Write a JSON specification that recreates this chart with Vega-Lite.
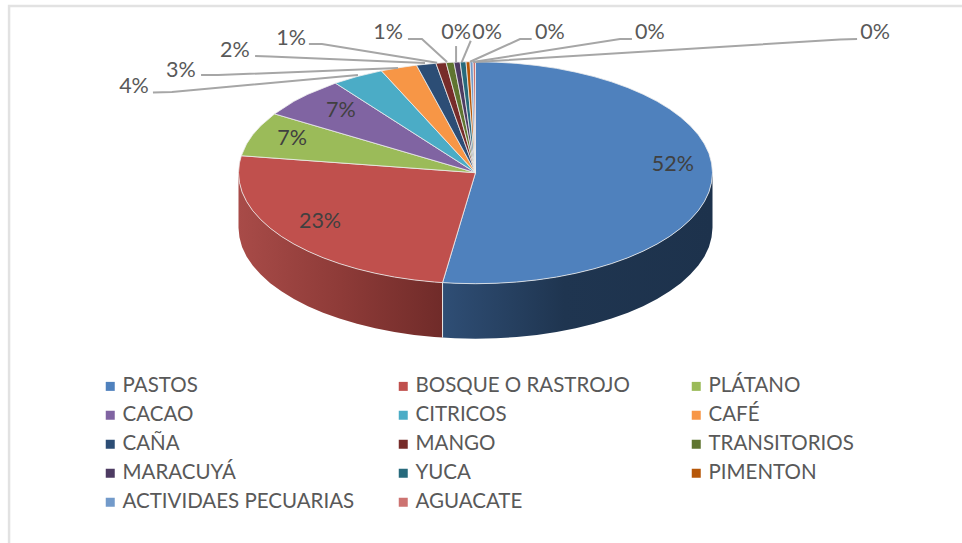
{"$schema":"https://vega.github.io/schema/vega-lite/v6.json","width":962,"height":543,"padding":0,"autosize":{"type":"none"},"background":"white","view":{"stroke":null},
"config":{"font":"Lato"},
"datasets":{
"frame":[{"x":-1.968,"y":-3.336,"i":0},{"x":-1.968,"y":1.502,"i":1},{"x":2.053,"y":1.502,"i":2}],
"sides":[
{"s":"PASTOS","x":1,"y":0,"y2":-0.495},{"s":"PASTOS","x":0.996,"y":-0.087,"y2":-0.582},{"s":"PASTOS","x":0.985,"y":-0.174,"y2":-0.669},{"s":"PASTOS","x":0.966,"y":-0.259,"y2":-0.754},{"s":"PASTOS","x":0.94,"y":-0.342,"y2":-0.837},{"s":"PASTOS","x":0.906,"y":-0.423,"y2":-0.918},{"s":"PASTOS","x":0.866,"y":-0.5,"y2":-0.995},{"s":"PASTOS","x":0.819,"y":-0.574,"y2":-1.069},{"s":"PASTOS","x":0.766,"y":-0.643,"y2":-1.138},{"s":"PASTOS","x":0.707,"y":-0.707,"y2":-1.202},{"s":"PASTOS","x":0.643,"y":-0.766,"y2":-1.261},{"s":"PASTOS","x":0.574,"y":-0.819,"y2":-1.314},{"s":"PASTOS","x":0.5,"y":-0.866,"y2":-1.361},{"s":"PASTOS","x":0.423,"y":-0.906,"y2":-1.401},{"s":"PASTOS","x":0.342,"y":-0.94,"y2":-1.435},{"s":"PASTOS","x":0.259,"y":-0.966,"y2":-1.461},{"s":"PASTOS","x":0.174,"y":-0.985,"y2":-1.48},{"s":"PASTOS","x":0.087,"y":-0.996,"y2":-1.491},{"s":"PASTOS","x":0,"y":-1,"y2":-1.495},{"s":"PASTOS","x":-0.087,"y":-0.996,"y2":-1.491},{"s":"PASTOS","x":-0.139,"y":-0.99,"y2":-1.485},
{"s":"BOSQUE O RASTROJO","x":-0.139,"y":-0.99,"y2":-1.485},{"s":"BOSQUE O RASTROJO","x":-0.174,"y":-0.985,"y2":-1.48},{"s":"BOSQUE O RASTROJO","x":-0.259,"y":-0.966,"y2":-1.461},{"s":"BOSQUE O RASTROJO","x":-0.342,"y":-0.94,"y2":-1.435},{"s":"BOSQUE O RASTROJO","x":-0.423,"y":-0.906,"y2":-1.401},{"s":"BOSQUE O RASTROJO","x":-0.5,"y":-0.866,"y2":-1.361},{"s":"BOSQUE O RASTROJO","x":-0.574,"y":-0.819,"y2":-1.314},{"s":"BOSQUE O RASTROJO","x":-0.643,"y":-0.766,"y2":-1.261},{"s":"BOSQUE O RASTROJO","x":-0.707,"y":-0.707,"y2":-1.202},{"s":"BOSQUE O RASTROJO","x":-0.766,"y":-0.643,"y2":-1.138},{"s":"BOSQUE O RASTROJO","x":-0.819,"y":-0.574,"y2":-1.069},{"s":"BOSQUE O RASTROJO","x":-0.866,"y":-0.5,"y2":-0.995},{"s":"BOSQUE O RASTROJO","x":-0.906,"y":-0.423,"y2":-0.918},{"s":"BOSQUE O RASTROJO","x":-0.94,"y":-0.342,"y2":-0.837},{"s":"BOSQUE O RASTROJO","x":-0.966,"y":-0.259,"y2":-0.754},{"s":"BOSQUE O RASTROJO","x":-0.985,"y":-0.174,"y2":-0.669},{"s":"BOSQUE O RASTROJO","x":-0.996,"y":-0.087,"y2":-0.582},{"s":"BOSQUE O RASTROJO","x":-1,"y":0,"y2":-0.495}],
"seam":[{"x":-0.139,"y":-0.99,"i":0},{"x":-0.139,"y":-1.485,"i":1}],
"wedges":[
{"s":"PASTOS","i":0,"x":0,"y":0},{"s":"PASTOS","i":1,"x":0,"y":1},{"s":"PASTOS","i":2,"x":0.087,"y":0.996},{"s":"PASTOS","i":3,"x":0.174,"y":0.985},{"s":"PASTOS","i":4,"x":0.259,"y":0.966},{"s":"PASTOS","i":5,"x":0.342,"y":0.94},{"s":"PASTOS","i":6,"x":0.423,"y":0.906},{"s":"PASTOS","i":7,"x":0.5,"y":0.866},{"s":"PASTOS","i":8,"x":0.574,"y":0.819},{"s":"PASTOS","i":9,"x":0.643,"y":0.766},{"s":"PASTOS","i":10,"x":0.707,"y":0.707},{"s":"PASTOS","i":11,"x":0.766,"y":0.643},{"s":"PASTOS","i":12,"x":0.819,"y":0.574},{"s":"PASTOS","i":13,"x":0.866,"y":0.5},{"s":"PASTOS","i":14,"x":0.906,"y":0.423},{"s":"PASTOS","i":15,"x":0.94,"y":0.342},{"s":"PASTOS","i":16,"x":0.966,"y":0.259},{"s":"PASTOS","i":17,"x":0.985,"y":0.174},{"s":"PASTOS","i":18,"x":0.996,"y":0.087},{"s":"PASTOS","i":19,"x":1,"y":0},{"s":"PASTOS","i":20,"x":0.996,"y":-0.087},{"s":"PASTOS","i":21,"x":0.985,"y":-0.174},{"s":"PASTOS","i":22,"x":0.966,"y":-0.259},{"s":"PASTOS","i":23,"x":0.94,"y":-0.342},{"s":"PASTOS","i":24,"x":0.906,"y":-0.423},{"s":"PASTOS","i":25,"x":0.866,"y":-0.5},{"s":"PASTOS","i":26,"x":0.819,"y":-0.574},{"s":"PASTOS","i":27,"x":0.766,"y":-0.643},{"s":"PASTOS","i":28,"x":0.707,"y":-0.707},{"s":"PASTOS","i":29,"x":0.643,"y":-0.766},{"s":"PASTOS","i":30,"x":0.574,"y":-0.819},{"s":"PASTOS","i":31,"x":0.5,"y":-0.866},{"s":"PASTOS","i":32,"x":0.423,"y":-0.906},{"s":"PASTOS","i":33,"x":0.342,"y":-0.94},{"s":"PASTOS","i":34,"x":0.259,"y":-0.966},{"s":"PASTOS","i":35,"x":0.174,"y":-0.985},{"s":"PASTOS","i":36,"x":0.087,"y":-0.996},{"s":"PASTOS","i":37,"x":0,"y":-1},{"s":"PASTOS","i":38,"x":-0.087,"y":-0.996},{"s":"PASTOS","i":39,"x":-0.139,"y":-0.99},{"s":"PASTOS","i":40,"x":0,"y":0},
{"s":"BOSQUE O RASTROJO","i":0,"x":0,"y":0},{"s":"BOSQUE O RASTROJO","i":1,"x":-0.139,"y":-0.99},{"s":"BOSQUE O RASTROJO","i":2,"x":-0.174,"y":-0.985},{"s":"BOSQUE O RASTROJO","i":3,"x":-0.259,"y":-0.966},{"s":"BOSQUE O RASTROJO","i":4,"x":-0.342,"y":-0.94},{"s":"BOSQUE O RASTROJO","i":5,"x":-0.423,"y":-0.906},{"s":"BOSQUE O RASTROJO","i":6,"x":-0.5,"y":-0.866},{"s":"BOSQUE O RASTROJO","i":7,"x":-0.574,"y":-0.819},{"s":"BOSQUE O RASTROJO","i":8,"x":-0.643,"y":-0.766},{"s":"BOSQUE O RASTROJO","i":9,"x":-0.707,"y":-0.707},{"s":"BOSQUE O RASTROJO","i":10,"x":-0.766,"y":-0.643},{"s":"BOSQUE O RASTROJO","i":11,"x":-0.819,"y":-0.574},{"s":"BOSQUE O RASTROJO","i":12,"x":-0.866,"y":-0.5},{"s":"BOSQUE O RASTROJO","i":13,"x":-0.906,"y":-0.423},{"s":"BOSQUE O RASTROJO","i":14,"x":-0.94,"y":-0.342},{"s":"BOSQUE O RASTROJO","i":15,"x":-0.966,"y":-0.259},{"s":"BOSQUE O RASTROJO","i":16,"x":-0.985,"y":-0.174},{"s":"BOSQUE O RASTROJO","i":17,"x":-0.996,"y":-0.087},{"s":"BOSQUE O RASTROJO","i":18,"x":-1,"y":0},{"s":"BOSQUE O RASTROJO","i":19,"x":-0.996,"y":0.087},{"s":"BOSQUE O RASTROJO","i":20,"x":-0.988,"y":0.153},{"s":"BOSQUE O RASTROJO","i":21,"x":0,"y":0},
{"s":"PLÁTANO","i":0,"x":0,"y":0},{"s":"PLÁTANO","i":1,"x":-0.988,"y":0.153},{"s":"PLÁTANO","i":2,"x":-0.966,"y":0.259},{"s":"PLÁTANO","i":3,"x":-0.94,"y":0.342},{"s":"PLÁTANO","i":4,"x":-0.906,"y":0.423},{"s":"PLÁTANO","i":5,"x":-0.848,"y":0.53},{"s":"PLÁTANO","i":6,"x":0,"y":0},
{"s":"CACAO","i":0,"x":0,"y":0},{"s":"CACAO","i":1,"x":-0.848,"y":0.53},{"s":"CACAO","i":2,"x":-0.766,"y":0.643},{"s":"CACAO","i":3,"x":-0.707,"y":0.707},{"s":"CACAO","i":4,"x":-0.591,"y":0.807},{"s":"CACAO","i":5,"x":0,"y":0},
{"s":"CITRICOS","i":0,"x":0,"y":0},{"s":"CITRICOS","i":1,"x":-0.591,"y":0.807},{"s":"CITRICOS","i":2,"x":-0.5,"y":0.866},{"s":"CITRICOS","i":3,"x":-0.397,"y":0.918},{"s":"CITRICOS","i":4,"x":0,"y":0},
{"s":"CAFÉ","i":0,"x":0,"y":0},{"s":"CAFÉ","i":1,"x":-0.397,"y":0.918},{"s":"CAFÉ","i":2,"x":-0.323,"y":0.946},{"s":"CAFÉ","i":3,"x":-0.249,"y":0.969},{"s":"CAFÉ","i":4,"x":0,"y":0},
{"s":"CAÑA","i":0,"x":0,"y":0},{"s":"CAÑA","i":1,"x":-0.249,"y":0.969},{"s":"CAÑA","i":2,"x":-0.167,"y":0.986},{"s":"CAÑA","i":3,"x":0,"y":0},
{"s":"MANGO","i":0,"x":0,"y":0},{"s":"MANGO","i":1,"x":-0.167,"y":0.986},{"s":"MANGO","i":2,"x":-0.124,"y":0.992},{"s":"MANGO","i":3,"x":0,"y":0},
{"s":"TRANSITORIOS","i":0,"x":0,"y":0},{"s":"TRANSITORIOS","i":1,"x":-0.124,"y":0.992},{"s":"TRANSITORIOS","i":2,"x":-0.091,"y":0.996},{"s":"TRANSITORIOS","i":3,"x":0,"y":0},
{"s":"MARACUYÁ","i":0,"x":0,"y":0},{"s":"MARACUYÁ","i":1,"x":-0.091,"y":0.996},{"s":"MARACUYÁ","i":2,"x":-0.065,"y":0.998},{"s":"MARACUYÁ","i":3,"x":0,"y":0},
{"s":"YUCA","i":0,"x":0,"y":0},{"s":"YUCA","i":1,"x":-0.065,"y":0.998},{"s":"YUCA","i":2,"x":-0.04,"y":0.999},{"s":"YUCA","i":3,"x":0,"y":0},
{"s":"PIMENTON","i":0,"x":0,"y":0},{"s":"PIMENTON","i":1,"x":-0.04,"y":0.999},{"s":"PIMENTON","i":2,"x":-0.023,"y":1},{"s":"PIMENTON","i":3,"x":0,"y":0},
{"s":"ACTIVIDAES PECUARIAS","i":0,"x":0,"y":0},{"s":"ACTIVIDAES PECUARIAS","i":1,"x":-0.023,"y":1},{"s":"ACTIVIDAES PECUARIAS","i":2,"x":-0.01,"y":1},{"s":"ACTIVIDAES PECUARIAS","i":3,"x":0,"y":0},
{"s":"AGUACATE","i":0,"x":0,"y":0},{"s":"AGUACATE","i":1,"x":-0.01,"y":1},{"s":"AGUACATE","i":2,"x":0,"y":1},{"s":"AGUACATE","i":3,"x":0,"y":0}],
"leaders":[
{"s":"CITRICOS","i":0,"x":-1.361,"y":0.723},{"s":"CITRICOS","i":1,"x":-1.281,"y":0.727},{"s":"CITRICOS","i":2,"x":-0.496,"y":0.88},
{"s":"CAFÉ","i":0,"x":-1.158,"y":0.88},{"s":"CAFÉ","i":1,"x":-1.086,"y":0.88},{"s":"CAFÉ","i":2,"x":-0.327,"y":0.943},
{"s":"CAÑA","i":0,"x":-0.93,"y":1.051},{"s":"CAÑA","i":1,"x":-0.867,"y":1.047},{"s":"CAÑA","i":2,"x":-0.213,"y":0.988},
{"s":"MANGO","i":0,"x":-0.703,"y":1.159},{"s":"MANGO","i":1,"x":-0.648,"y":1.159},{"s":"MANGO","i":2,"x":-0.162,"y":0.991},
{"s":"TRANSITORIOS","i":0,"x":-0.285,"y":1.204},{"s":"TRANSITORIOS","i":1,"x":-0.226,"y":1.204},{"s":"TRANSITORIOS","i":2,"x":-0.12,"y":0.997},
{"s":"MARACUYÁ","i":0,"x":-0.082,"y":1.141},{"s":"MARACUYÁ","i":1,"x":-0.082,"y":0.997},
{"s":"YUCA","i":0,"x":-0.02,"y":1.189},{"s":"YUCA","i":1,"x":-0.058,"y":0.997},
{"s":"PIMENTON","i":0,"x":0.237,"y":1.204},{"s":"PIMENTON","i":1,"x":0.188,"y":1.204},{"s":"PIMENTON","i":2,"x":-0.023,"y":1},
{"s":"ACTIVIDAES PECUARIAS","i":0,"x":0.66,"y":1.204},{"s":"ACTIVIDAES PECUARIAS","i":1,"x":0.61,"y":1.204},{"s":"ACTIVIDAES PECUARIAS","i":2,"x":-0.011,"y":0.997},
{"s":"AGUACATE","i":0,"x":1.61,"y":1.204},{"s":"AGUACATE","i":1,"x":1.538,"y":1.2},{"s":"AGUACATE","i":2,"x":-0.002,"y":0.997}],
"inner":[{"t":"52%","x":0.833,"y":0.069},{"t":"23%","x":-0.656,"y":-0.444},{"t":"7%","x":-0.774,"y":0.304},{"t":"7%","x":-0.568,"y":0.556}],
"outer":[{"t":"4%","x":-1.441,"y":0.772},{"t":"3%","x":-1.243,"y":0.916},{"t":"2%","x":-1.015,"y":1.096},{"t":"1%","x":-0.778,"y":1.205},{"t":"1%","x":-0.369,"y":1.259},{"t":"0%","x":-0.082,"y":1.259},{"t":"0%","x":0.049,"y":1.259},{"t":"0%","x":0.314,"y":1.259},{"t":"0%","x":0.736,"y":1.259},{"t":"0%","x":1.686,"y":1.259}]
},
"encoding":{
"x":{"field":"x","type":"quantitative","axis":null,"scale":{"domain":[-2.0063,2.0527],"nice":false,"zero":false}},
"y":{"field":"y","type":"quantitative","axis":null,"scale":{"domain":[-3.336,1.556],"nice":false,"zero":false}}
},
"layer":[
{"data":{"name":"frame"},"mark":{"type":"line","color":"#e2e2e2","strokeWidth":2.5},"encoding":{"order":{"field":"i"}}},
{"data":{"name":"sides"},"transform":[{"filter":"datum.s==='PASTOS'"}],"mark":{"type":"area","fill":{"gradient":"linear","x1":0,"y1":0,"x2":1,"y2":0,"stops":[{"offset":0,"color":"#2f4e75"},{"offset":0.45,"color":"#1f3550"},{"offset":1,"color":"#1d324c"}]}},"encoding":{"y2":{"field":"y2"}}},
{"data":{"name":"sides"},"transform":[{"filter":"datum.s==='BOSQUE O RASTROJO'"}],"mark":{"type":"area","fill":{"gradient":"linear","x1":0,"y1":0,"x2":1,"y2":0,"stops":[{"offset":0,"color":"#a84b48"},{"offset":0.5,"color":"#8e3b38"},{"offset":1,"color":"#702b29"}]}},"encoding":{"y2":{"field":"y2"}}},
{"data":{"name":"seam"},"mark":{"type":"line","color":"#e8e8e8","strokeWidth":1},"encoding":{"order":{"field":"i"}}},
{"data":{"name":"wedges"},"mark":{"type":"line","stroke":"#eeeeee","strokeWidth":0.8,"strokeJoin":"round"},"encoding":{"order":{"field":"i"},"detail":{"field":"s"},
"fill":{"field":"s","type":"nominal","sort":null,"scale":{"domain":["PASTOS","BOSQUE O RASTROJO","PLÁTANO","CACAO","CITRICOS","CAFÉ","CAÑA","MANGO","TRANSITORIOS","MARACUYÁ","YUCA","PIMENTON","ACTIVIDAES PECUARIAS","AGUACATE"],"range":["#4F81BD","#C0504D","#9BBB59","#8064A2","#4BACC6","#F79646","#2C4D75","#772C2A","#5F7530","#4D3B62","#276A7C","#B65708","#729ACA","#CD7371"]},
"legend":{"title":null,"orient":"none","direction":"horizontal","legendX":100,"legendY":376,"columns":3,"gridAlign":"all","columnPadding":38,"rowPadding":8,"symbolType":"square","symbolSize":81,"symbolStrokeWidth":0,"symbolOpacity":1,"labelFont":"Lato","labelFontSize":20.5,"labelColor":"#595959","labelOffset":2,"labelLimit":300,"symbolLimit":14}}}},
{"data":{"name":"leaders"},"mark":{"type":"line","color":"#a6a6a6","strokeWidth":2},"encoding":{"order":{"field":"i"},"detail":{"field":"s"}}},
{"data":{"name":"inner"},"mark":{"type":"text","fontSize":21.5,"color":"#404040","font":"Lato"},"encoding":{"text":{"field":"t"}}},
{"data":{"name":"outer"},"mark":{"type":"text","fontSize":21.5,"color":"#595959","font":"Lato"},"encoding":{"text":{"field":"t"}}}
]}
